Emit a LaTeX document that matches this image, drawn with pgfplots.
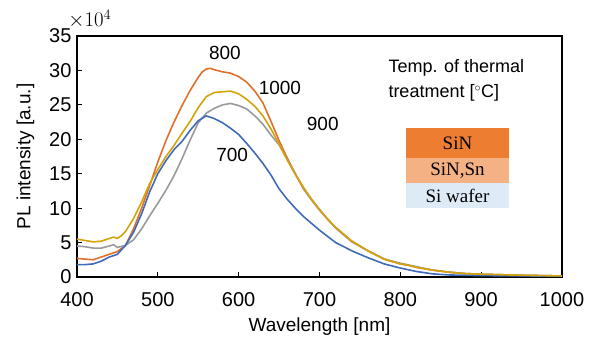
\documentclass[border=0pt]{standalone}
\usepackage{pgfplots}
\pgfplotsset{compat=1.18}
\usepackage{fontspec}
\setmainfont{Liberation Sans}
\newfontfamily\serifjp{Liberation Serif}
\definecolor{cOr}{HTML}{E0702A}
\definecolor{cYe}{HTML}{D4A20A}
\definecolor{cGr}{HTML}{9A9A9A}
\definecolor{cBl}{HTML}{3F6CB8}
\definecolor{bOr}{HTML}{ED7D31}
\definecolor{bLo}{HTML}{F4B183}
\definecolor{bBl}{HTML}{DEEBF7}
\begin{document}
\begin{tikzpicture}
\useasboundingbox (-77pt,-62pt) rectangle (521pt,277pt);
\begin{axis}[
  scale only axis,
  width=485pt, height=241pt,
  xmin=400, xmax=1000, ymin=0, ymax=35,
  xtick={400,500,...,1000}, ytick={0,5,...,35},
  tick pos=left,
  tick align=inside,
  major tick length=5pt,
  every tick/.style={black, line width=0.9pt},
  axis line style={black, line width=1.2pt},
  /pgf/number format/assume math mode=true,
  /pgf/number format/1000 sep={},
  tick label style={font=\fontsize{20}{22}\selectfont},
  xticklabel style={yshift=-12pt},
  yticklabel style={xshift=-2pt},
  label style={font=\fontsize{19}{21}\selectfont},
  xlabel={Wavelength [nm]},
  ylabel={PL intensity [a.u.]},
  xlabel style={yshift=-4pt},
  ylabel style={yshift=8pt},
  clip=false,
]
\addplot[cOr, line width=1.6pt] coordinates {
(400,2.7)(410,2.6)(420,2.5)(430,2.9)(440,3.3)(450,3.7)(460,4.6)(465,5.8)(470,7.0)(480,10.0)(490,13.3)(500,16.7)(510,19.8)(520,22.5)(530,24.9)(540,27.1)(550,29.0)(555,29.8)(560,30.2)(565,30.3)(570,30.1)(580,29.8)(590,29.6)(600,29.1)(610,28.3)(620,27.0)(630,25.3)(640,22.6)(650,19.8)(660,17.3)(670,15.0)(680,13.0)(690,11.3)(700,9.8)(710,8.4)(720,7.2)(740,5.2)(760,3.8)(780,2.6)(800,1.9)(810,1.7)(820,1.4)(840,1.0)(860,0.7)(880,0.5)(900,0.4)(950,0.25)(1000,0.15)};
\addplot[cGr, line width=1.6pt] coordinates {
(400,4.5)(410,4.4)(420,4.2)(430,4.2)(440,4.5)(445,4.7)(450,4.3)(460,4.6)(470,5.4)(480,7.0)(490,8.9)(500,10.7)(510,12.6)(520,14.7)(530,17.2)(540,19.9)(550,22.4)(560,23.8)(570,24.5)(580,25.0)(590,25.2)(600,24.9)(610,24.4)(620,23.4)(630,22.2)(640,20.6)(650,19.2)(660,17.1)(670,15.0)(680,12.8)(690,11.2)(700,9.7)(720,7.1)(740,5.1)(760,3.8)(780,2.6)(800,2.0)(820,1.5)(840,1.0)(860,0.7)(880,0.5)(900,0.4)(950,0.25)(1000,0.15)};
\addplot[cBl, line width=1.6pt] coordinates {
(400,1.8)(410,1.8)(420,1.9)(430,2.3)(440,2.9)(450,3.3)(460,4.6)(470,6.5)(480,9.2)(490,12.4)(500,15.0)(510,16.9)(520,18.5)(530,19.7)(540,21.3)(550,22.7)(560,23.4)(570,23.0)(580,22.4)(590,21.6)(600,20.7)(610,19.4)(620,18.0)(630,16.5)(640,14.8)(650,12.8)(660,11.3)(670,10.0)(680,8.8)(690,7.8)(700,6.8)(720,5.0)(740,3.8)(760,2.8)(780,1.9)(800,1.3)(820,0.8)(840,0.45)(860,0.3)(900,0.2)(1000,0.12)};
\addplot[cYe, line width=1.6pt] coordinates {
(400,5.5)(410,5.3)(420,5.1)(430,5.2)(440,5.6)(445,5.8)(450,5.6)(455,6.0)(460,6.6)(470,8.5)(480,10.9)(490,13.6)(500,15.6)(510,17.5)(520,19.1)(530,20.9)(540,22.6)(550,24.6)(560,26.2)(570,26.8)(580,26.9)(590,27.0)(600,26.6)(610,25.8)(620,24.8)(630,23.4)(640,21.5)(650,19.3)(660,17.0)(670,14.9)(680,13.0)(690,11.3)(700,9.8)(710,8.4)(720,7.2)(740,5.2)(760,3.8)(780,2.6)(800,1.9)(810,1.7)(820,1.4)(840,1.0)(860,0.7)(880,0.5)(900,0.4)(950,0.25)(1000,0.15)};
\node[font=\fontsize{19}{21}\selectfont] at (axis cs:583,32.5) {800};
\node[font=\fontsize{19}{21}\selectfont] at (axis cs:651,27.4) {1000};
\node[font=\fontsize{19}{21}\selectfont] at (axis cs:704,22.2) {900};
\node[font=\fontsize{19}{21}\selectfont] at (axis cs:592,17.7) {700};
\node[font=\fontsize{18}{25}\selectfont, anchor=west, align=left] at (rel axis cs:0.635,0.815) {Temp. of thermal\\treatment [$^{\circ}$C]};
\fill[bOr] (rel axis cs:0.678,0.494) rectangle (rel axis cs:0.891,0.618);
\fill[bLo] (rel axis cs:0.678,0.390) rectangle (rel axis cs:0.891,0.494);
\fill[bBl] (rel axis cs:0.678,0.286) rectangle (rel axis cs:0.891,0.390);
\node[font=\serifjp\fontsize{19}{21}\selectfont] at (rel axis cs:0.7845,0.556) {SiN};
\node[font=\serifjp\fontsize{19}{21}\selectfont] at (rel axis cs:0.7845,0.442) {SiN,Sn};
\node[font=\serifjp\fontsize{19}{21}\selectfont] at (rel axis cs:0.7845,0.338) {Si wafer};
\node[font=\fontsize{21}{23}\selectfont, anchor=west] at (rel axis cs:-0.025,1.07) {$\times10^4$};
\end{axis}
\end{tikzpicture}
\end{document}
